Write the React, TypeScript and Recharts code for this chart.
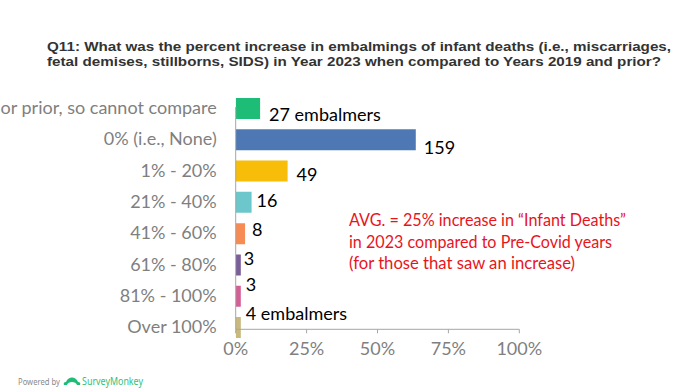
import React from "react";
import { BarChart, Bar, XAxis, YAxis, Cell, LabelList, Customized } from "recharts";

// ---- data ----
const categories = [
  "or prior, so cannot compare",
  "0% (i.e., None)",
  "1% - 20%",
  "21% - 40%",
  "41% - 60%",
  "61% - 80%",
  "81% - 100%",
  "Over 100%",
];
const percents = [8.6, 63.5, 18.3, 5.6, 3.3, 1.8, 1.8, 1.8];
const counts = [27, 159, 49, 16, 8, 3, 3, 4];
const xTicks = [0, 25, 50, 75, 100];
const titleLines = [
  "Q11: What was the percent increase in embalmings of infant deaths (i.e., miscarriages,",
  "fetal demises, stillborns, SIDS) in Year 2023 when compared to Years 2019 and prior?",
];
const noteLines = [
  "AVG. = 25% increase in \u201cInfant Deaths\u201d",
  "in 2023 compared to Pre-Covid years",
  "(for those that saw an increase)",
];

// ---- styling ----
const colors = ["#1dbd77", "#4e78b4", "#f7bd08", "#6cc7cc", "#f68b53", "#7a5e98", "#d45f95", "#c9b97c"];
const labelDx = [9, 8, 9, 5, 7, 3, 5, 5];
const labelDy = [6.4, 7.6, 4.1, -1.2, -3.5, -6.3, -11.7, -13.9];
const noteWidths = [277, 263, 226];
const FONT = "Lato, 'Open Sans', sans-serif";

const data = categories.map((c, i) => ({ category: c, pct: percents[i], count: counts[i] }));

const labelText = (i: number) =>
  i === 0 || i === counts.length - 1 ? `${counts[i]} embalmers` : `${counts[i]}`;

const ValueLabel = (props: any) => {
  const { x, y, width, height, index } = props;
  const cx = Number(x) + Number(width) + labelDx[index];
  const cy = Number(y) + Number(height) / 2 + labelDy[index];
  return (
    <text x={cx} y={cy + 6.3} fill="#000" fontSize={18} fontFamily={FONT}>
      {labelText(index)}
    </text>
  );
};

const YTick = (props: any) => {
  const { x, y, payload } = props;
  return (
    <text x={x} y={y + 5.5} textAnchor="end" fill="#7f7f7f" fontSize={18} fontFamily={FONT}>
      {payload.value}
    </text>
  );
};

const XTick = (props: any) => {
  const { x, payload } = props;
  return (
    <text x={x} y={354.5} textAnchor="middle" fill="#7f7f7f" fontSize={18} fontFamily={FONT}>
      {`${payload.value}%`}
    </text>
  );
};

const Overlay = () => (
  <g>
    <text x={47} y={51} fontSize={13} fontWeight="bold" fill="#333" fontFamily="'Liberation Sans', Arial, sans-serif" textLength={624} lengthAdjust="spacingAndGlyphs">
      {titleLines[0]}
    </text>
    <text x={47} y={66.3} fontSize={13} fontWeight="bold" fill="#333" fontFamily="'Liberation Sans', Arial, sans-serif" textLength={614} lengthAdjust="spacingAndGlyphs">
      {titleLines[1]}
    </text>
    {noteLines.map((t, i) => (
      <text key={i} x={349} y={226 + i * 21.6} fontSize={16.8} fill="#e8141c" fontFamily={FONT} textLength={noteWidths[i]} lengthAdjust="spacingAndGlyphs">
        {t}
      </text>
    ))}
    <text x={18} y={384.5} fontSize={8.5} fill="#8a8a8a" fontFamily="'Noto Sans', sans-serif" textLength={42} lengthAdjust="spacingAndGlyphs">
      Powered by
    </text>
    <path d="M64 385 a2 2 0 0 1 2 -3 c2 -6 10 -6 12 0 a2 2 0 0 1 2 3 l-3 0 c-1 -4 -9 -4 -10 0 z" fill="#1dbd77" />
    <text x={82} y={384.5} fontSize={10} fill="#2fbf7c" fontFamily="'Noto Sans', sans-serif" textLength={61} lengthAdjust="spacingAndGlyphs">
      SurveyMonkey
    </text>
  </g>
);

export default function App() {
  return (
    <div style={{ position: "absolute", left: 0, top: 0, background: "#fff" }}>
      <BarChart
        width={697}
        height={392}
        data={data}
        layout="vertical"
        margin={{ top: 107, right: 177.7, bottom: 32.7, left: 0 }}
        barSize={21}
      >
        <XAxis
          type="number"
          domain={[0, 100]}
          ticks={xTicks}
          allowDataOverflow
          height={30}
          stroke="#a6a6a6"
          tickSize={4}
          tick={<XTick />}
        />
        <YAxis
          type="category"
          dataKey="category"
          width={235.7}
          padding={{ top: -14, bottom: -14 }}
          stroke="#a6a6a6"
          tickLine={false}
          tickSize={6}
          tickMargin={13}
          interval={0}
          tick={<YTick />}
        />
        <Bar dataKey="pct" isAnimationActive={false}>
          {data.map((d, i) => (
            <Cell key={d.category} fill={colors[i]} />
          ))}
          <LabelList dataKey="pct" content={<ValueLabel />} />
        </Bar>
        <Customized component={Overlay} />
      </BarChart>
    </div>
  );
}
